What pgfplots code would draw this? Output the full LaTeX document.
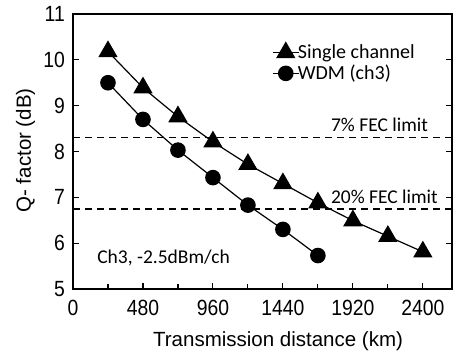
\documentclass[border=0pt]{standalone}
\usepackage{fontspec}
\setmainfont{Liberation Sans}
\newfontfamily\tickfont{Liberation Sans}[FakeStretch=0.88]
\newfontfamily\calfont{Carlito}
\usepackage{pgfplots}
\pgfplotsset{compat=1.18}
\begin{document}
\begin{tikzpicture}
\path[use as bounding box] (-73pt,-63pt) rectangle (382pt,289pt);
\begin{axis}[
  at={(0pt,0pt)}, anchor=south west,
  scale only axis, width=379pt, height=275pt,
  xmin=0, xmax=2600, ymin=5, ymax=11,
  xtick={0,480,...,2400}, minor xtick={240,720,...,2160},
  ytick={5,...,11},
  tick align=inside, xtick pos=left, ytick pos=both,
  major tick length=6pt, minor tick length=5pt,
  axis line style={line width=1.3pt},
  every tick/.style={black, line width=1.1pt},
  /pgf/number format/assume math mode=true,
  /pgf/number format/1000 sep={},
  tick label style={font=\tickfont\fontsize{22}{24}\selectfont},
  xticklabel style={anchor=north, inner sep=0pt, yshift=-11pt},
  yticklabel style={anchor=east, inner sep=0pt, xshift=-8pt},
  xlabel={Transmission distance (km)},
  ylabel={Q- factor (dB)},
  every axis x label/.style={at={(axis description cs:0.541,0)}, anchor=north, inner sep=0pt, yshift=-42pt},
  every axis y label/.style={at={(axis description cs:-0.1253,0.504)}, anchor=center, rotate=90, inner sep=0pt},
  label style={font=\fontsize{20.5}{24}\selectfont},
  legend style={at={(axis cs:1365,10.38)}, anchor=north west, draw=none, fill=none,
    inner sep=0pt, font=\calfont\fontsize{20}{22}\selectfont, row sep=3pt,
    nodes={inner xsep=1pt, inner ysep=1pt},
    /tikz/every odd column/.append style={column sep=-2.5pt}},
  legend cell align=left,
  legend image code/.code={\draw[mark repeat=2,mark phase=2] plot coordinates {(0pt,0pt) (13pt,0pt) (26pt,0pt)};},
]
\addplot[black, line width=1.2pt, mark=triangle*, mark size=10pt, mark options={fill=black}]
  coordinates {(240,10.18) (480,9.39) (720,8.76) (960,8.21) (1200,7.72) (1440,7.30) (1680,6.88) (1920,6.49) (2160,6.15) (2400,5.81)};
\addlegendentry{Single channel}
\addplot[black, line width=1.2pt, mark=*, mark size=7.2pt, mark options={fill=black}]
  coordinates {(240,9.50) (480,8.70) (720,8.03) (960,7.43) (1200,6.83) (1440,6.30) (1680,5.73)};
\addlegendentry{WDM (ch3)}
\addplot[black, line width=1.5pt, dash pattern=on 7pt off 5pt, forget plot] coordinates {(0,8.31) (2600,8.31)};
\addplot[black, line width=1.5pt, dash pattern=on 7pt off 5pt, forget plot] coordinates {(0,6.75) (2600,6.75)};
\node[anchor=base west, inner sep=0pt, font=\calfont\fontsize{19.5}{22}\selectfont] at (axis cs:1769,8.44) {7\% FEC limit};
\node[anchor=base west, inner sep=0pt, font=\calfont\fontsize{19.5}{22}\selectfont] at (axis cs:1769,6.87) {20\% FEC limit};
\node[anchor=base west, inner sep=0pt, font=\calfont\fontsize{19.5}{22}\selectfont] at (axis cs:165,5.56) {Ch3, -2.5dBm/ch};
\end{axis}
\end{tikzpicture}
\end{document}
